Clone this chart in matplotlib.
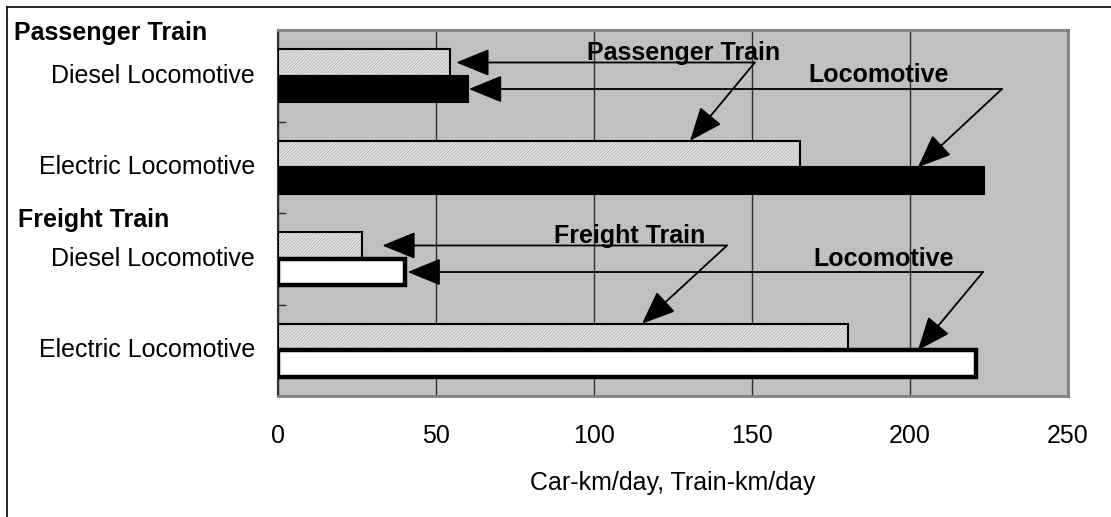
import numpy as np
import matplotlib
matplotlib.use("Agg")
import matplotlib.pyplot as plt
from matplotlib.lines import Line2D

plt.rcParams['font.family'] = ['Liberation Sans', 'DejaVu Sans']
plt.rcParams['hatch.linewidth'] = 0.4

# data
rows = ['Diesel Locomotive', 'Electric Locomotive', 'Diesel Locomotive', 'Electric Locomotive']
groups = ['Passenger Train', 'Freight Train']
car_km = [54.4, 165.2, 26.5, 180.5]         # hatched bars (Passenger/Freight Train)
loco_km = [60.2, 223.4, 40.2, 221.0]        # solid bars (Locomotive)
xticks = [0, 50, 100, 150, 200, 250]
xlabel = 'Car-km/day, Train-km/day'

W, H = 1111, 517
FS = 18
fig = plt.figure(figsize=(W / 100, H / 100), dpi=100)
ax = fig.add_axes([278 / W, 1 - 396 / H, 790 / W, 366 / H])
ax.set_facecolor('#c0c0c0')

y = np.arange(len(rows))
h = 0.29
off = 0.145
loco_face = ['black', 'black', 'white', 'white']
loco_lw = [1.5, 1.5, 3.2, 3.2]

ax.barh(y - off, car_km, height=h, color='#e2e2e2', edgecolor='#a6a6a6',
        hatch='//////////', linewidth=0, zorder=3)
ax.barh(y - off, car_km, height=h, fill=False, edgecolor='black', linewidth=1.5, zorder=4)
for i in range(len(rows)):
    ax.barh(y[i] + off, loco_km[i], height=h, color=loco_face[i], edgecolor='black',
            linewidth=loco_lw[i], zorder=4)

ax.set_xlim(0, 250)
ax.set_ylim(3.5, -0.5)
ax.set_xticks(xticks)
ax.set_xticklabels([str(t) for t in xticks], fontsize=FS)
ax.tick_params(axis='x', length=0, pad=20)
ax.set_yticks([0.5, 1.5, 2.5])
ax.set_yticklabels([])
ax.tick_params(axis='y', direction='in', length=6, width=1, color='#303030')
ax.xaxis.grid(True, color='#303030', linewidth=1)
ax.set_axisbelow(True)
ax.set_xlabel(xlabel, fontsize=FS, labelpad=17)
for s in ['top', 'right', 'bottom']:
    ax.spines[s].set_color('#808080')
    ax.spines[s].set_linewidth(2)
ax.spines['left'].set_color('#303030')
ax.spines['left'].set_linewidth(1.5)

# row labels on the left
tr = ax.get_yaxis_transform()
for i, r in enumerate(rows):
    ax.text(-0.029, y[i], r, transform=tr, ha='right', va='center', fontsize=FS)
ax.text(-0.334, -0.467, groups[0], transform=tr, ha='left', va='center',
        fontsize=FS, fontweight='bold')
ax.text(-0.329, 1.577, groups[1], transform=tr, ha='left', va='center',
        fontsize=FS, fontweight='bold')

# callouts
arrow = dict(arrowstyle='-|>,head_length=1.1,head_width=0.45', color='black',
             lw=1.3, shrinkA=0, shrinkB=0, mutation_scale=19)


def callout(label, tx, ty, corner, targets):
    ax.text(tx, ty, label, ha='center', va='baseline', fontsize=FS,
            fontweight='bold', zorder=6)
    for t in targets:
        ax.annotate('', xy=t, xytext=corner, arrowprops=arrow, zorder=6)


callout('Passenger Train', 128.2, -0.172, (150.9, -off),
        [(car_km[0] + 2, -off), (130.4, 1 - off - h / 2)])
callout('Locomotive', 190.2, 0.063, (229.1, off),
        [(loco_km[0] + 0.2, off), (202.5, 1 + off - h / 2)])
callout('Freight Train', 111.4, 1.828, (142.1, 2 - off),
        [(car_km[2] + 6.5, 2 - off), (115.2, 3 - off - h / 2)])
callout('Locomotive', 191.5, 2.079, (223.1, 2 + off),
        [(loco_km[2] + 0.8, 2 + off), (202.5, 3 + off - h / 2)])

# outer frame of the chart
fig.add_artist(Line2D([7 / W, 7 / W], [0, 1 - 7 / H], color='black', lw=1.2,
                      transform=fig.transFigure))
fig.add_artist(Line2D([7 / W, 1], [1 - 7 / H, 1 - 7 / H], color='black', lw=1.2,
                      transform=fig.transFigure))

fig.savefig('out.png', dpi=100)
